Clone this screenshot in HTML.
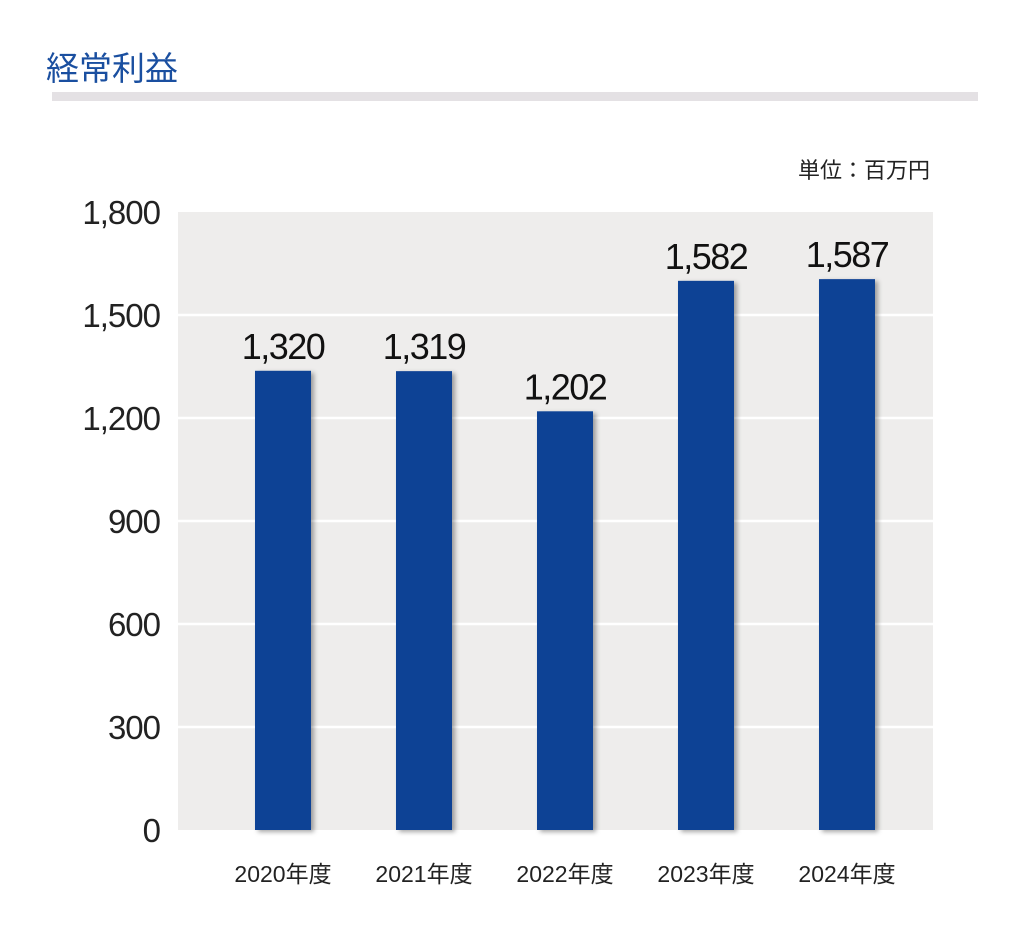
<!DOCTYPE html>
<html><head><meta charset="utf-8"><style>
body{margin:0;background:#fff;width:1024px;height:938px;overflow:hidden;font-family:"Liberation Sans","Noto Sans CJK JP",sans-serif}
</style></head><body>
<svg width="1024" height="938" xmlns="http://www.w3.org/2000/svg">
<defs><filter id="sh" x="-20%" y="-5%" width="150%" height="110%"><feDropShadow dx="3" dy="2" stdDeviation="2.5" flood-color="#000" flood-opacity="0.35"/></filter></defs>
<text x="46" y="80" font-size="33" fill="#1a4fa0" font-family="Noto Sans CJK JP, sans-serif">経常利益</text>
<rect x="52" y="92" width="926" height="9" fill="#e4e1e4"/>
<text x="930" y="178" font-size="22" text-anchor="end" fill="#222" font-family="Noto Sans CJK JP, sans-serif">単位：百万円</text>
<rect x="178" y="212" width="755" height="618" fill="#eeedec"/>
<g id="grid"></g><g id="bars"></g><g id="labels"></g>
</svg>
<script>
const categories=["2020年度","2021年度","2022年度","2023年度","2024年度"];
const values=[1320,1319,1202,1582,1587];
const valueLabels=["1,320","1,319","1,202","1,582","1,587"];
const ticks=[0,300,600,900,1200,1500,1800];
const tickLabels=["0","300","600","900","1,200","1,500","1,800"];
const NS="http://www.w3.org/2000/svg";
const y0=830,yTop=212,yMax=1800,xL=178,xR=933;
const y=v=>y0-(v/yMax)*(y0-yTop);
const step=141,firstC=283;
const xc=i=>firstC+i*step;
function mk(t,a,p){const e=document.createElementNS(NS,t);for(const k in a)e.setAttribute(k,a[k]);p.appendChild(e);return e;}
const g=document.getElementById('grid'),b=document.getElementById('bars'),l=document.getElementById('labels');
ticks.forEach((t,i)=>{
  if(t>0&&t<yMax){const ln=mk('line',{x1:xL,x2:xR,y1:y(t),y2:y(t),stroke:'#fff','stroke-width':2.5},g);
  
  }
  const tx=mk('text',{x:160,y:y(t)+12,'font-size':33,'text-anchor':'end',fill:'#222','letter-spacing':'-1'},g);
  tx.textContent=tickLabels[i];
  
  
});
values.forEach((v,i)=>{
  const r=mk('rect',{x:xc(i)-28,y:y(v)-6,width:56,height:y0-y(v)+6,fill:'#0a4395',filter:'url(#sh)'},b);
  
  
  const vt=mk('text',{x:xc(i),y:y(v)-18,'font-size':36,'text-anchor':'middle',fill:'#111','letter-spacing':'-1.5'},l);
  vt.textContent=valueLabels[i];
  
  
  const ct=mk('text',{x:xc(i),y:882,'font-size':23,'text-anchor':'middle',fill:'#222'},l);
  ct.textContent=categories[i];
  
  
});
</script>
</body></html>
